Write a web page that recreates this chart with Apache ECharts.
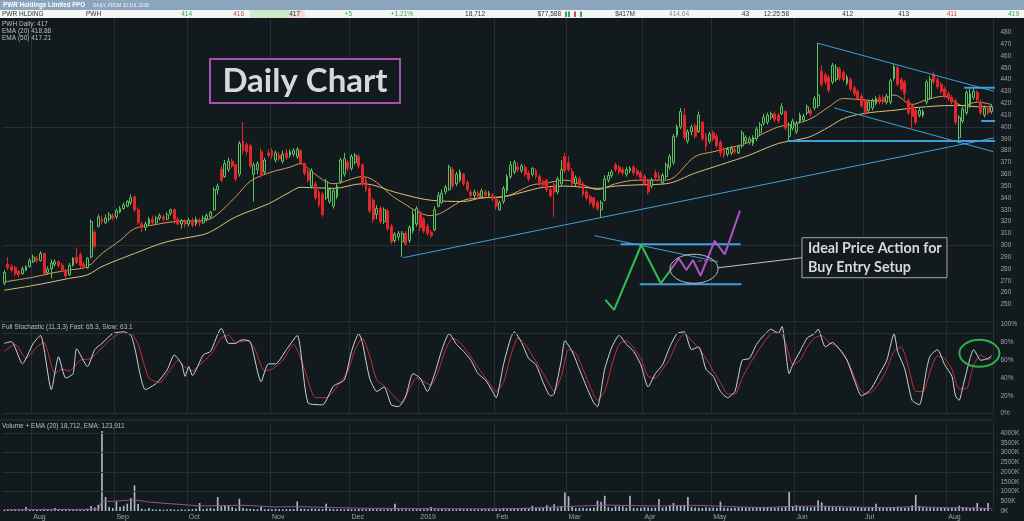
<!DOCTYPE html>
<html><head><meta charset="utf-8">
<script src="https://cdn.jsdelivr.net/npm/echarts@6/dist/echarts.min.js"></script>
<style>html,body{margin:0;padding:0;background:#131a1e;overflow:hidden}#c{width:1024px;height:521px}</style>
</head><body><div id="c"></div>
<script>
// [open, close, low, high] per trading day, 20 Jul 2018 .. 19 Aug 2019
const ohlc = [
[268,277,266,279],[284,281,279,290],[282,279,277,284],[281,276,274,283],[278,275,273,279],[276,280,275,282],[279,282,278,283],[282,287,281,289],[286,290,285,292],[289,287,285,291],
[287,293,286,295],[293,276,275,294],[277,280,275,282],[280,285,272,288],[284,286,282,288],[286,283,281,287],[283,279,277,285],[279,274,272,280],[275,283,274,285],[283,289,282,290],
[290,285,284,298],[292,283,281,294],[284,281,280,286],[281,289,280,290],[290,320,289,322],[311,299,297,313],[316,324,315,326],[322,320,318,325],[319,323,318,326],[322,326,320,328],
[325,323,321,327],[324,329,322,331],[328,331,327,333],[331,334,330,336],[333,337,332,338],[336,340,334,343],[341,330,328,342],[330,319,317,332],[318,315,311,320],[315,318,312,320],
[318,322,316,324],[322,319,317,325],[319,323,318,325],[323,325,321,327],[324,322,320,326],[322,326,321,328],[327,330,325,331],[330,322,318,331],[322,318,317,324],[318,321,314,322],
[320,318,315,322],[318,321,316,323],[321,317,315,323],[318,322,316,324],[321,319,316,323],[319,323,318,325],[322,325,320,327],[324,328,322,329],[330,347,329,349],[347,350,343,352],
[364,355,353,367],[358,369,357,372],[364,371,362,374],[371,367,365,373],[368,356,354,369],[360,386,358,388],[388,380,377,404],[385,379,376,387],[384,367,365,386],[360,368,337,370],
[364,369,360,371],[379,359,357,382],[362,372,360,374],[378,376,374,381],[380,376,373,382],[372,378,370,380],[376,373,371,379],[371,377,369,380],[378,374,372,381],[376,379,374,381],
[377,380,375,382],[375,381,373,383],[380,370,368,381],[369,361,359,370],[362,355,353,364],[350,363,348,365],[352,340,338,354],[345,334,332,347],[343,326,324,345],[340,354,338,356],
[337,347,335,349],[333,346,331,348],[341,350,339,352],[354,372,352,374],[360,373,358,378],[370,365,363,372],[365,375,363,377],[370,376,368,378],[375,367,365,377],[368,352,350,369],
[355,347,345,357],[348,329,327,350],[338,322,319,340],[326,331,322,334],[331,320,318,333],[320,330,318,332],[329,314,312,331],[316,303,301,318],[304,309,302,311],[307,310,304,312],
[303,310,290,312],[310,301,300,312],[304,315,302,317],[312,326,310,330],[318,331,316,333],[328,315,312,330],[322,312,310,324],[316,310,308,318],[311,308,306,313],[313,330,312,333],
[333,342,332,345],[336,344,335,347],[345,349,343,351],[347,366,346,368],[364,350,348,366],[352,360,350,362],[355,362,353,364],[360,352,350,361],[353,347,345,355],[345,342,340,347],
[342,345,340,347],[344,341,339,346],[341,346,340,348],[345,342,340,347],[342,344,340,346],[342,339,337,344],[339,333,330,341],[330,336,329,338],[337,348,335,350],[346,358,344,360],
[358,368,356,371],[362,370,360,372],[366,364,362,370],[363,367,361,369],[366,360,358,368],[361,356,354,363],[360,365,358,366],[363,358,356,365],[358,353,350,360],[354,351,349,356],
[355,347,345,356],[347,342,340,349],[351,345,324,353],[345,356,343,358],[352,364,350,372],[375,363,361,378],[370,364,362,375],[362,352,350,365],[352,357,350,359],[356,351,348,358],
[352,343,341,354],[345,340,338,347],[341,336,334,343],[340,333,331,341],[336,331,329,338],[330,336,323,338],[338,356,337,359],[355,359,353,362],[359,362,357,364],[368,364,362,370],
[366,362,360,368],[364,361,359,366],[360,364,358,366],[363,365,361,367],[366,361,359,368],[363,360,358,365],[361,357,355,363],[358,352,350,360],[354,345,343,356],[350,355,348,357],
[361,357,355,364],[359,356,354,362],[353,359,351,361],[358,368,356,370],[366,375,364,377],[370,392,368,394],[393,400,391,402],[400,413,398,416],[410,391,389,416],[388,396,386,398],
[396,400,393,402],[401,392,390,403],[396,410,395,413],[404,390,388,405],[392,384,380,395],[388,394,386,396],[395,390,388,397],[392,384,382,394],[387,378,375,389],[380,376,374,383],
[377,381,375,383],[378,382,376,384],[381,379,377,383],[378,383,377,385],[384,395,382,397],[388,391,386,393],[387,390,385,392],[386,391,384,393],[390,398,388,400],[395,402,393,404],
[403,408,401,411],[404,410,402,412],[408,411,406,413],[411,406,404,413],[410,405,403,412],[411,417,410,420],[413,399,397,414],[392,402,388,404],[399,405,397,407],[396,403,394,405],
[405,410,403,412],[406,409,404,411],[412,417,410,419],[414,411,409,416],[416,424,414,426],[418,427,416,471],[447,436,434,452],[444,438,436,446],[442,431,429,444],[438,452,436,454],
[440,450,438,453],[449,441,439,451],[446,440,438,448],[437,442,435,444],[440,432,430,442],[433,428,426,435],[430,424,422,432],[426,418,416,428],[422,412,410,424],[414,421,412,423],
[416,422,414,424],[420,424,418,426],[425,421,419,427],[425,421,419,427],[421,426,419,428],[421,439,419,441],[441,451,439,453],[450,436,434,452],[440,432,430,442],[438,428,421,440],
[422,412,410,424],[418,409,399,420],[414,404,402,416],[410,414,408,416],[410,413,408,415],[421,438,419,440],[425,440,423,443],[444,438,436,447],[440,434,432,442],[436,430,428,438],
[432,426,424,434],[428,424,422,430],[425,421,419,427],[422,404,402,424],[391,408,386,410],[405,415,403,417],[412,429,410,431],[418,428,416,432],[425,430,423,433],[429,423,421,431],
[421,412,410,423],[410,416,408,418],[416,412,410,418],[413,417,411,419]
];
// daily volume, thousands of shares
const volumeK = [
60,70,55,80,65,60,200,75,90,70, 85,110,70,60,150,80,65,70,90,75,
80,95,70,120,250,180,320,4100,715,200, 150,490,200,270,375,660,1310,360,120,80,
150,90,70,85,60,75,90,70,65,80, 70,85,95,110,410,90,130,150,120,715,
240,270,290,200,130,630,150,120,110,100, 95,200,90,100,85,110,90,80,95,100,
105,490,120,110,95,130,120,110,100,375, 120,100,90,95,85,110,90,80,100,95,
90,105,100,85,95,80,110,90,375,100, 85,90,80,95,90,100,85,110,200,90,
95,105,90,100,85,95,110,90,100,95, 90,85,100,95,105,90,110,120,160,140,
130,150,140,160,170,150,270,180,160,150, 300,200,340,180,250,950,750,200,150,160,
170,140,160,180,530,480,780,200,160,240, 240,240,170,780,160,150,170,200,180,160,
170,610,180,200,300,410,270,300,300,715, 200,180,170,160,190,170,180,160,480,170,
160,150,170,180,190,170,160,180,190,170, 180,200,170,160,190,180,210,990,250,300,
250,220,200,190,210,545,440,250,220,200, 190,200,180,170,190,200,180,170,160,180,
190,375,200,180,170,190,200,220,180,170, 190,300,820,250,200,180,170,160,150,170,
160,150,170,180,270,200,190,160,180,410, 170,150,410,19
];
// [dayIndex, value] readings of the indicator lines
const ema20Pts = [[0,269],[8,273],[14,277],[18,279],[23,282],[27,293],[32,304],[36,314],[41,317],[47,320],[55,321],[58,324],[64,341],[68,354],[73,361],[79,366],[82,369],[85,362],[91,352],[99,358],[109,338],[118,325],[127,338],[132,340],[138,341],[146,351],[149,352],[155,355],[160,351],[164,347],[169,352],[175,355],[183,355],[191,375],[196,379],[200,382],[205,386],[209,393],[214,400],[219,403],[223,407],[228,417],[232,424],[237,423],[242,422],[246,427],[251,419],[255,423],[260,426],[265,418],[269,421],[273,418.88]];
const ema50Pts = [[0,262],[8,266],[18,272],[23,275],[27,282],[36,293],[45,303],[55,309],[58,313],[64,324],[73,335],[79,345],[82,349],[91,348],[99,352],[109,344],[118,338],[127,337],[132,340],[138,341],[146,347],[149,349],[155,350],[160,349],[164,348],[169,350],[175,351],[183,352],[191,361],[196,366],[200,370],[205,375],[209,380],[214,386],[219,389],[223,392],[228,400],[232,407],[237,411],[242,413],[246,414],[251,416],[255,417],[260,418],[265,418],[269,417],[273,417.21]];
const stochFast = [[0,79],[2,81],[5,56],[8,79],[10,88],[13,27],[15,64],[17,40],[19,45],[20,73],[23,53],[25,72],[27,79],[30,90],[33,92],[35,88],[36,75],[39,27],[42,34],[45,49],[47,66],[49,56],[50,42],[51,53],[52,43],[55,66],[57,70],[60,96],[62,79],[64,79],[65,82],[66,83],[68,81],[71,36],[73,56],[75,56],[78,72],[81,88],[84,12],[88,10],[91,31],[94,38],[96,70],[98,90],[99,80],[101,40],[103,25],[105,30],[107,10],[109,8],[111,20],[113,45],[115,40],[117,25],[119,45],[121,72],[123,90],[125,78],[127,70],[129,60],[131,45],[133,38],[135,25],[136,18],[138,55],[140,85],[141,92],[143,80],[145,62],[147,55],[149,35],[151,20],[152,22],[154,60],[155,82],[157,70],[159,50],[161,30],[163,12],[164,8],[166,50],[168,75],[170,88],[172,78],[174,70],[176,55],[178,30],[180,45],[182,55],[184,75],[186,90],[188,92],[190,72],[192,75],[194,50],[196,42],[198,25],[200,18],[202,25],[204,60],[206,62],[208,78],[210,88],[212,95],[214,90],[215,98],[217,45],[218,55],[220,70],[222,85],[224,90],[225,95],[227,75],[229,80],[231,72],[233,60],[235,38],[237,20],[239,25],[240,30],[242,45],[244,60],[246,90],[247,70],[249,50],[251,15],[253,10],[255,50],[256,65],[258,72],[260,55],[262,42],[263,20],[264,15],[265,30],[267,62],[268,72],[270,60],[272,62],[273,65.3]];
const stochSlow = [[0,70],[3,78],[6,62],[9,75],[11,80],[14,45],[16,50],[18,48],[21,60],[24,62],[26,70],[29,82],[32,90],[35,90],[37,78],[40,40],[43,35],[46,50],[48,60],[50,52],[52,48],[54,55],[57,66],[60,85],[62,88],[64,80],[67,82],[69,75],[72,48],[74,50],[77,60],[80,78],[83,50],[86,18],[89,18],[92,30],[95,48],[97,72],[99,85],[101,65],[103,38],[106,28],[108,18],[110,12],[112,28],[114,40],[116,36],[118,32],[120,48],[122,72],[124,85],[126,80],[128,70],[130,58],[132,46],[134,35],[136,25],[138,35],[140,65],[142,85],[144,78],[146,65],[148,52],[150,38],[152,25],[154,42],[156,72],[158,68],[160,50],[162,30],[164,15],[166,25],[168,55],[170,78],[172,82],[174,74],[176,62],[178,42],[180,40],[182,50],[184,62],[186,80],[188,90],[190,82],[192,74],[194,62],[196,48],[198,35],[200,22],[202,22],[204,40],[206,55],[208,68],[210,80],[212,90],[214,92],[216,80],[218,55],[220,60],[222,75],[224,85],[226,88],[228,80],[230,76],[232,68],[234,52],[236,32],[238,22],[240,25],[242,35],[244,50],[246,70],[248,75],[250,52],[252,25],[254,25],[256,48],[258,65],[260,62],[262,50],[264,28],[266,28],[268,55],[270,66],[272,61],[273,63.1]];
const volEmaPts = [[0,70],[10,75],[20,80],[26,100],[27,480],[30,500],[36,560],[40,460],[50,320],[55,260],[60,280],[66,290],[75,210],[81,220],[90,180],[100,140],[110,130],[120,120],[135,110],[145,140],[155,230],[160,260],[167,300],[175,270],[182,260],[190,290],[200,230],[210,180],[217,230],[225,250],[235,200],[245,180],[252,220],[260,170],[268,150],[273,124]];
const monthTicks = [[8,'Aug'],[31,'Sep'],[51,'Oct'],[74,'Nov'],[96,'Dec'],[115,'2019'],[136,'Feb'],[156,'Mar'],[177,'Apr'],[196,'May'],[219,'Jun'],[238,'Jul'],[261,'Aug']];
// annotation drawings in [dayIndex, price]
const trendLines = [
 {pts:[[110.3,289.5],[275.7,392.0]], w:1},
 {pts:[[216.5,388.1],[275.7,388.1]], w:2},
 {pts:[[225.0,470.7],[275.7,428.4]], w:1},
 {pts:[[229.5,416.0],[273.4,379.1]], w:1},
 {pts:[[265.4,433],[275.7,433]], w:2},
 {pts:[[270.1,405],[275.9,405]], w:2},
 {pts:[[170.4,300.8],[203.6,300.8]], w:2},
 {pts:[[175.7,267.0],[203.8,267.0]], w:2},
 {pts:[[163.2,308.1],[197.3,286.1]], w:1}
];
const greenPath = [[166.2,253.8],[168.6,245.4],[176.1,300.2],[181.5,267.8],[184.0,278.2]];
const magentaPath = [[184.0,278.2],[186.5,288.9],[188.6,279.0],[190.4,287.5],[192.5,274.2],[196.4,303.8],[199.2,292.3],[203.4,329.2]];
const magentaDash = [[191.8,286.7],[196.8,286.7]];
const ellipseCenter = [190.7,280.1];
const stochEllipseCenter = [269.6,67.9];

const N = ohlc.length;
const cats = ohlc.map((d,i)=>String(i));
const monthSet = new Map(monthTicks.map(m=>[m[0],m[1]]));
const BG = '#131a1e', GRID = '#262f35', LBL = '#9aa3ab';
const FONT = 'Liberation Sans, Arial, sans-serif';

const chart = echarts.init(document.getElementById('c'), null, {renderer:'canvas'});
const grids = [
  {left:2.5, right:30.5, top:8.6, height:319.45},
  {left:2.5, right:30.5, top:324.7, height:89},
  {left:2.5, right:30.5, top:423.2, height:88.1}
];
function catAxis(gi, showLabel){
  return {type:'category', gridIndex:gi, data:cats, boundaryGap:true,
    axisLine:{show:false}, axisTick:{show:false},
    axisLabel:{show:showLabel, interval:(i)=>monthSet.has(i), formatter:(v,i)=>monthSet.get(Number(v))||'',
      color:LBL, fontSize:7, fontFamily:FONT, align:'left', margin:3},
    splitLine:{show:true, interval:(i)=>monthSet.has(i), lineStyle:{color:GRID, width:1}}};
}
function valX(gi){ return {type:'value', gridIndex:gi, min:-0.5, max:N-0.5, show:false}; }
const lbl = {color:LBL, fontSize:6.5, fontFamily:FONT};
const yAxes = [
  {type:'value', gridIndex:0, position:'right', min:230, max:500, interval:10, splitLine:{show:false}, axisLine:{show:false}, axisTick:{show:false},
   axisLabel:Object.assign({margin:7, formatter:v=>(v>=250&&v<=480)?String(v):''}, lbl)},
  {type:'value', gridIndex:1, position:'right', min:0, max:100, interval:20, splitLine:{show:false}, axisLine:{show:false}, axisTick:{show:false},
   axisLabel:Object.assign({margin:7, formatter:'{value}%'}, lbl)},
  {type:'value', gridIndex:2, position:'right', min:0, max:4500, interval:500, splitLine:{show:false}, axisLine:{show:false}, axisTick:{show:false},
   axisLabel:Object.assign({margin:7, formatter:v=>v<=4000?v+'K':''}, lbl)}
];
function lineS(data, xi, yi, color, w, extra){
  return Object.assign({type:'line', data, xAxisIndex:xi, yAxisIndex:yi, symbol:'none', silent:true,
    lineStyle:{color, width:w}, z:3}, extra||{});
}
const hLine = (v)=>({yAxis:v});
const series = [
  {type:'candlestick', xAxisIndex:0, yAxisIndex:0, data:ohlc, barWidth:'66%', silent:true, z:4,
   itemStyle:{color:BG, color0:'#e3262a', borderColor:'#5cc160', borderColor0:'#e3262a', borderWidth:1},
   markLine:{silent:true, symbol:'none', label:{show:false}, lineStyle:{color:GRID, type:'solid', width:1}, data:[hLine(300),hLine(400)], z:1}},
  lineS(ema20Pts, 3, 0, '#d9995a', 1, {smooth:0.35}),
  lineS(ema50Pts, 3, 0, '#d8c27c', 1, {smooth:0.35}),
  lineS(stochSlow, 4, 1, '#bf3232', 1, {smooth:0.2, markLine:{silent:true, symbol:'none', label:{show:false}, lineStyle:{color:GRID, type:'solid', width:1}, data:[hLine(0),hLine(90)]}}),
  lineS(stochFast, 4, 1, '#cdd4da', 1, {smooth:0.2}),
  {type:'bar', xAxisIndex:2, yAxisIndex:2, data:volumeK, barWidth:'45%', silent:true, itemStyle:{color:'#a9bccb'},
   markLine:{silent:true, symbol:'none', label:{show:false}, lineStyle:{color:GRID, type:'solid', width:1}, data:[hLine(1000),hLine(2000),hLine(3000),hLine(4000)]}},
  lineS(volEmaPts, 5, 2, '#9a4f9a', 1, {smooth:0.3})
];
trendLines.forEach(t=>series.push(lineS(t.pts, 3, 0, '#3f9fdc', t.w, {clip:false, z:6})));
series.push(lineS(greenPath, 3, 0, '#2fbf4f', 2, {clip:false, z:6}));
series.push(lineS(magentaPath, 3, 0, '#b24fc4', 2, {clip:false, z:6}));
series.push(lineS(magentaDash, 3, 0, '#b24fc4', 1, {clip:false, z:6, lineStyle:{color:'#b24fc4', width:1, type:'dashed'}}));

chart.setOption({
  animation:false, backgroundColor:BG,
  grid:grids,
  xAxis:[catAxis(0,false), catAxis(1,false), catAxis(2,true), valX(0), valX(1), valX(2)],
  yAxis:yAxes,
  series
});

// overlay text and shapes
function txt(text, x, y, opt){
  return {type:'text', x, y, z:100, silent:true, style:Object.assign({text, fill:'#333', fontSize:6.5, fontFamily:FONT, verticalAlign:'middle', align:'left'}, opt||{})};
}
const G = [];
G.push({type:'rect', shape:{x:0,y:0,width:1024,height:10}, style:{fill:'#8ba6bc'}, z:90, silent:true});
G.push({type:'rect', shape:{x:0,y:10,width:1024,height:8}, style:{fill:'#f3f5f6'}, z:90, silent:true});
G.push({type:'rect', shape:{x:250,y:10,width:40,height:8}, style:{fill:'#cdebcb'}, z:91, silent:true});
G.push({type:'rect', shape:{x:290,y:10,width:15,height:8}, style:{fill:'#f5dcdc'}, z:91, silent:true});
G.push(txt('PWR Holdings Limited FPO', 3, 5, {fill:'#ffffff', fontWeight:'bold', fontSize:6.3}));
G.push(txt('DAILY, FROM 20 JUL 2018', 93, 5.5, {fill:'#eef3f7', fontSize:4.6}));
const GRN='#3aa648', RED='#d54b4b', DK='#333';
[['PWR HLDING',2,'left',DK],['PWH',86,'left',DK],['414',192,'right',GRN],['416',244,'right',RED],['417',300,'right',DK],
 ['+5',352,'right',GRN],['+1.21%',413,'right',GRN],['18,712',485,'right',DK],['$77,588',561,'right',DK],['$417M',635,'right',DK],
 ['414.64',689,'right','#8a8a8a'],['43',749,'right',DK],['12:25:58',789,'right',DK],['412',853,'right',DK],['413',909,'right',DK],
 ['411',957,'right',RED],['419',1019,'right',GRN]].forEach(r=>G.push(txt(r[0], r[1], 14.2, {align:r[2], fill:r[3]})));
[[565,GRN],[568,GRN],[574,RED],[580,GRN]].forEach(b=>G.push({type:'rect', shape:{x:b[0],y:11.5,width:2,height:5.5}, style:{fill:b[1]}, z:92, silent:true}));
G.push(txt('PWH Daily: 417', 2, 24, {fill:'#b7bfc6'}));
G.push(txt('EMA (20) 418.88', 2, 31.5, {fill:'#b7bfc6'}));
G.push(txt('EMA (50) 417.21', 2, 38.5, {fill:'#b7bfc6'}));
G.push({type:'line', shape:{x1:0,y1:322,x2:993,y2:322}, style:{stroke:'#2d363c', lineWidth:1}, z:5, silent:true});
G.push({type:'line', shape:{x1:0,y1:420,x2:993,y2:420}, style:{stroke:'#2d363c', lineWidth:1}, z:5, silent:true});
G.push({type:'rect', shape:{x:0,y:322.5,width:993,height:2}, style:{fill:BG}, z:5, silent:true});
G.push(txt('Full Stochastic (11,3,3) Fast: 65.3, Slow: 63.1', 2, 327.5, {fill:'#b7bfc6'}));
G.push(txt('Volume + EMA (20) 18,712, EMA: 123,911', 2, 426.7, {fill:'#b7bfc6'}));
// Daily Chart label
G.push({type:'rect', shape:{x:210,y:59,width:190,height:44}, style:{fill:BG, stroke:'#a552b0', lineWidth:2}, z:50, silent:true});
G.push(txt('Daily Chart', 305, 81.5, {fill:'#d6d9dc', fontSize:33, fontWeight:'bold', fontFamily:'Lato, Open Sans, sans-serif', align:'center'}));
// Ideal price action box
G.push({type:'rect', shape:{x:802,y:237.7,width:145,height:40}, style:{fill:BG, stroke:'#a4a9ad', lineWidth:1}, z:50, silent:true});
G.push(txt('Ideal Price Action for', 808, 248, {fill:'#d6d9dc', fontSize:14.3, fontWeight:'bold', fontFamily:'Lato, Open Sans, sans-serif'}));
G.push(txt('Buy Entry Setup', 808, 267, {fill:'#d6d9dc', fontSize:14.3, fontWeight:'bold', fontFamily:'Lato, Open Sans, sans-serif'}));
try {
  const c1 = chart.convertToPixel({seriesIndex:1}, ellipseCenter);
  G.push({type:'ellipse', shape:{cx:c1[0], cy:c1[1], rx:24, ry:14.5}, style:{fill:'none', stroke:'#bfc3c6', lineWidth:1}, z:60, silent:true});
  G.push({type:'line', shape:{x1:c1[0]+24, y1:c1[1]-1, x2:802, y2:257.7}, style:{stroke:'#bfc3c6', lineWidth:1}, z:60, silent:true});
  const c2 = chart.convertToPixel({seriesIndex:4}, stochEllipseCenter);
  G.push({type:'ellipse', shape:{cx:c2[0], cy:c2[1], rx:20, ry:13.5}, style:{fill:'none', stroke:'#2bb24a', lineWidth:2}, z:60, silent:true});
} catch(e) {}
chart.setOption({graphic:G});
</script>
</body></html>
